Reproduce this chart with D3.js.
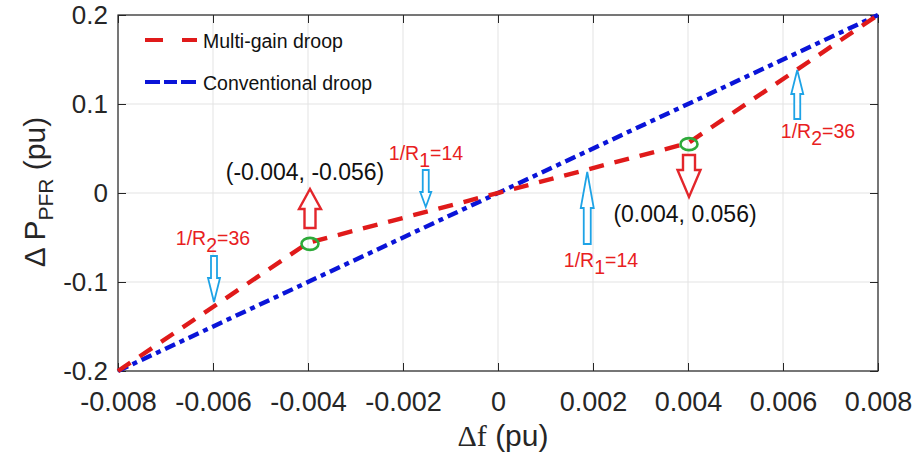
<!DOCTYPE html>
<html><head><meta charset="utf-8">
<script src="https://cdn.jsdelivr.net/npm/d3@7"></script>
<style>body{margin:0;background:#fff}svg{display:block}text{font-family:"Liberation Sans",Arial,sans-serif}</style>
</head><body><svg id="c" width="912" height="453"></svg>
<script>
const xTicks = [-0.008,-0.006,-0.004,-0.002,0,0.002,0.004,0.006,0.008];
const yTicks = [-0.2,-0.1,0,0.1,0.2];
const multiX = [-0.008,-0.004,0.004,0.008];
const multiY = [-0.2,-0.056,0.056,0.2];
const convX = [-0.008,0.008];
const convY = [-0.2,0.2];
const seriesNames = ["Multi-gain droop","Conventional droop"];
const points = [[-0.004,-0.056],[0.004,0.056]];
const gainLabels = [
  {sub:"2", val:"36", at:-0.006},
  {sub:"1", val:"14", at:-0.0015},
  {sub:"1", val:"14", at:0.0019},
  {sub:"2", val:"36", at:0.0063}
];

const svg = d3.select("#c");
const m = {l:118, r:878, t:15, b:371};
const x = d3.scaleLinear().domain([-0.008,0.008]).range([m.l,m.r]);
const y = d3.scaleLinear().domain([-0.2,0.2]).range([m.b,m.t]);

// grid
svg.append("g").selectAll("line").data(xTicks).join("line")
  .attr("x1",d=>x(d)).attr("x2",d=>x(d)).attr("y1",m.t).attr("y2",m.b)
  .attr("stroke","#e3e3e3").attr("stroke-width",1);
svg.append("g").selectAll("line").data(yTicks).join("line")
  .attr("y1",d=>y(d)).attr("y2",d=>y(d)).attr("x1",m.l).attr("x2",m.r)
  .attr("stroke","#e3e3e3").attr("stroke-width",1);

const fmtX = d => d===0 ? "0" : d3.format(".3f")(d).replace("−","-");
const fmtY = d => d===0 ? "0" : d3.format(".1f")(d).replace("−","-");
const ax = d3.axisBottom(x).tickValues(xTicks).tickSize(-8).tickPadding(21).tickFormat(fmtX);
const ay = d3.axisLeft(y).tickValues(yTicks).tickSize(-8).tickPadding(10).tickFormat(fmtY);
const gx = svg.append("g").attr("transform",`translate(0,${m.b})`).call(ax);
const gy = svg.append("g").attr("transform",`translate(${m.l},0)`).call(ay);
const gx2 = svg.append("g").attr("transform",`translate(0,${m.t})`).call(d3.axisTop(x).tickValues(xTicks).tickSize(-8).tickFormat(""));
const gy2 = svg.append("g").attr("transform",`translate(${m.r},0)`).call(d3.axisRight(y).tickValues(yTicks).tickSize(-8).tickFormat(""));
[gx,gy,gx2,gy2].forEach(g=>{g.select(".domain").remove();g.selectAll("line").attr("stroke","#262626");});
gx.selectAll("text").attr("font-size",27).attr("fill","#262626").attr("font-family","'Liberation Sans',Arial,sans-serif");
gy.selectAll("text").attr("font-size",26).attr("fill","#262626").attr("font-family","'Liberation Sans',Arial,sans-serif");
svg.append("rect").attr("x",m.l).attr("y",m.t).attr("width",m.r-m.l).attr("height",m.b-m.t)
  .attr("fill","none").attr("stroke","#262626").attr("stroke-width",1.2);

const line = d3.line().x(d=>x(d[0])).y(d=>y(d[1]));
const conv = convX.map((v,i)=>[v,convY[i]]);
const multi = multiX.map((v,i)=>[v,multiY[i]]);
const BLUE="#0a14d8", RED="#e01a1a";
svg.append("path").attr("d",line(conv)).attr("fill","none").attr("stroke",BLUE).attr("stroke-width",4.4).attr("stroke-dasharray","11,5,5,5");
svg.append("path").attr("d",line(multi)).attr("fill","none").attr("stroke",RED).attr("stroke-width",4.4).attr("stroke-dasharray","15,11");

// legend
const leg = [{c:RED,da:"18,19",y:40},{c:BLUE,da:"15,4,13,4",y:82}];
leg.forEach((l,i)=>{
  svg.append("line").attr("x1",145).attr("x2",197).attr("y1",l.y).attr("y2",l.y)
   .attr("stroke",l.c).attr("stroke-width",4).attr("stroke-dasharray",l.da);
  svg.append("text").attr("x",203).attr("y",l.y+8).attr("font-size",19.5).attr("fill","#111").text(seriesNames[i]);
});

// hollow arrow
function arrow(cx, yTail, yHead, color, w, hw, hl, sw){
  const dir = yHead < yTail ? -1 : 1;
  const yb = yHead - dir*hl;
  const pts = [[cx-w/2,yTail],[cx-w/2,yb],[cx-hw/2,yb],[cx,yHead],[cx+hw/2,yb],[cx+w/2,yb],[cx+w/2,yTail]];
  svg.append("path").attr("d","M"+pts.map(p=>p.join(",")).join("L")+"Z")
    .attr("fill","#fff").attr("stroke",color).attr("stroke-width",sw).attr("stroke-linejoin","miter");
}
// points
points.forEach((p,i)=>{
  svg.append("ellipse").attr("cx",x(p[0])+(i?1:2)).attr("cy",y(p[1])+1).attr("rx",8.5).attr("ry",6)
   .attr("fill","none").attr("stroke","#2eaa3a").attr("stroke-width",2.6);
});
const RA="#e3262b", BA="#1ea3e6";
arrow(x(-0.004)+2, 228, 189, RA, 11, 22, 20, 2.4);
arrow(x(0.004)+1, 155, 197, RA, 12, 23, 27, 2.4);
arrow(x(gainLabels[0].at)+1, 256, 302, BA, 6, 12, 24, 1.8);
arrow(x(gainLabels[1].at)-1, 170, 207, BA, 6, 11, 15, 1.8);
arrow(x(gainLabels[2].at)-1, 244, 172, BA, 7, 13, 36, 1.8);
arrow(x(gainLabels[3].at), 119, 70, BA, 6, 12, 24, 1.8);

function rlabel(cx, by, g){
  const t = svg.append("text").attr("x",cx).attr("y",by).attr("text-anchor","middle").attr("font-size",19.5).attr("fill","#e8201e");
  t.append("tspan").text("1/R");
  t.append("tspan").attr("dy",7).text(g.sub);
  t.append("tspan").attr("dy",-7).text("="+g.val);
}
rlabel(213, 245, gainLabels[0]);
rlabel(426, 160, gainLabels[1]);
rlabel(601, 267, gainLabels[2]);
rlabel(818, 138, gainLabels[3]);

svg.append("text").attr("x",305).attr("y",180).attr("text-anchor","middle").attr("font-size",23).attr("fill","#111")
  .text("("+points[0][0]+", "+points[0][1]+")");
svg.append("text").attr("x",685).attr("y",222).attr("text-anchor","middle").attr("font-size",23).attr("fill","#111")
  .text("("+points[1][0]+", "+points[1][1]+")");

// axis titles
const yl = svg.append("text").attr("transform",`translate(45,192) rotate(-90)`).attr("text-anchor","middle").attr("font-size",30).attr("fill","#262626");
yl.append("tspan").text("Δ P");
yl.append("tspan").attr("dy",8).attr("font-size",21).text("PFR");
yl.append("tspan").attr("dy",-8).text(" (pu)");
const xl = svg.append("text").attr("x",503).attr("y",446).attr("text-anchor","middle").attr("font-size",30).attr("fill","#262626");
xl.append("tspan").attr("font-family","'Liberation Serif',serif").text("Δf");
xl.append("tspan").text(" (pu)");
</script></body></html>
